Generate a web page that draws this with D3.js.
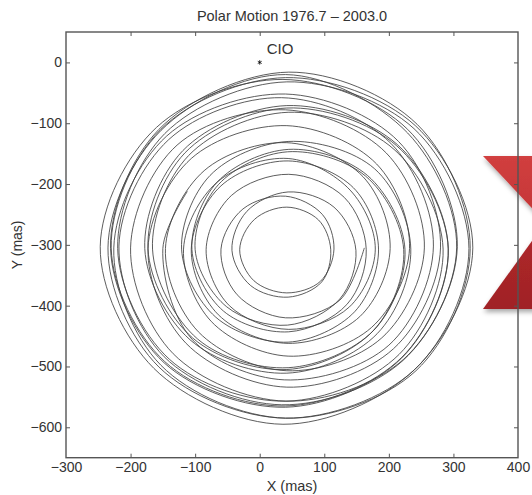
<!DOCTYPE html>
<html>
<head>
<meta charset="utf-8">
<script src="https://cdn.jsdelivr.net/npm/d3@7"></script>
<style>
  body { margin: 0; background: #fff; }
  svg { display: block; font-family: "Liberation Sans", Arial, sans-serif; }
  .tick text { fill: #333; font-size: 14px; }
  .tick line { stroke: #555; }
</style>
</head>
<body>
<div id="chart"></div>
<script>
// axis ticks
const xTicks = [-300, -200, -100, 0, 100, 200, 300, 400];
const yTicks = [0, -100, -200, -300, -400, -500, -600];

// reference point
const cioPoint = [{ label: "CIO", x: 0, y: 0 }];

// pole path, x / y in mas (1976.7 -> 2003.0)
const polePath = [
  [-112, -212], [-150, -306], [-105, -455], [38, -522], [200, -465],
  [269, -302], [203, -133], [34, -58], [-141, -127], [-218, -302], [-148, -484], [34, -563], [222, -490],
  [306, -303], [229, -110], [36, -28], [-160, -107], [-247, -303], [-164, -503], [36, -595], [239, -506],
  [330, -305], [241, -104], [40, -25], [-154, -111], [-230, -305], [-147, -492], [40, -565], [220, -485],
  [292, -306], [213, -135], [42, -71], [-119, -145], [-178, -306], [-108, -456], [42, -511], [182, -446],
  [234, -307], [178, -175], [44, -130], [-77, -186], [-121, -307], [-68, -419], [44, -460], [147, -410],
  [184, -307], [145, -206], [44, -162], [-60, -203], [-106, -307], [-64, -415], [44, -462], [155, -418],
  [202, -306], [160, -188], [42, -132], [-86, -178], [-146, -306], [-95, -443], [42, -507], [189, -453],
  [255, -305], [196, -149], [40, -78], [-128, -136], [-200, -305], [-134, -479], [40, -557], [223, -488],
  [305, -305], [229, -116], [40, -20], [-153, -112], [-235, -305], [-156, -501], [40, -585], [240, -505],
  [324, -306], [239, -109], [42, -32], [-147, -117], [-220, -306], [-140, -488], [42, -557], [216, -480],
  [284, -307], [208, -143], [44, -82], [-110, -153], [-166, -307], [-96, -455], [44, -502], [177, -440],
  [225, -308], [167, -186], [45, -143], [-66, -197], [-105, -308], [-56, -409], [45, -443], [135, -398],
  [165, -308], [131, -222], [45, -184], [-44, -219], [-83, -308], [-47, -400], [45, -439], [139, -402],
  [179, -307], [140, -210], [44, -158], [-66, -197], [-118, -307], [-75, -426], [44, -483], [173, -436],
  [232, -306], [181, -167], [42, -104], [-106, -158], [-173, -306], [-114, -462], [42, -534], [207, -471],
  [280, -305], [215, -130], [40, -52], [-144, -121], [-226, -305], [-153, -498], [40, -585], [242, -507],
  [326, -306], [244, -102], [45, -16], [-156, -110], [-231, -306], [-148, -494], [40, -567], [220, -486],
  [292, -307], [212, -137], [42, -75], [-116, -149], [-173, -307], [-104, -453], [42, -505], [176, -441],
  [223, -308], [164, -187], [43, -147], [-64, -201], [-100, -308], [-51, -402], [43, -432], [124, -389],
  [149, -309], [115, -238], [44, -213], [-20, -245], [-43, -309], [-14, -367], [44, -386], [96, -361],
  [110, -308], [91, -259], [42, -238], [-8, -258], [-31, -308], [-9, -359], [42, -379], [94, -360],
  [115, -307], [97, -250], [40, -220], [-26, -241], [-60, -307], [-35, -382], [40, -420], [124, -391],
  [162, -305]
];

const width = 532, height = 495;
const margin = { top: 32, right: 14, bottom: 37.3, left: 66 };

const svg = d3.select("#chart").append("svg")
  .attr("width", width)
  .attr("height", height);

svg.append("rect").attr("width", width).attr("height", height).attr("fill", "#fff");

const x = d3.scaleLinear().domain([-300, 400]).range([margin.left, width - margin.right]);
const y = d3.scaleLinear().domain([-650, 50]).range([height - margin.bottom, margin.top]);

// red "X" badge sitting over the right edge (decoration)
const defs = svg.append("defs");
const f = defs.append("filter").attr("id", "shadow").attr("x", "-30%").attr("y", "-30%")
  .attr("width", "160%").attr("height", "160%");
f.append("feDropShadow").attr("dx", 1).attr("dy", 3).attr("stdDeviation", 2.5)
  .attr("flood-color", "#000").attr("flood-opacity", 0.35);
const gTop = defs.append("linearGradient").attr("id", "redTop").attr("x1", 0).attr("y1", 0).attr("x2", 0).attr("y2", 1);
gTop.append("stop").attr("offset", "0%").attr("stop-color", "#d13f3f");
gTop.append("stop").attr("offset", "100%").attr("stop-color", "#c03234");
const gBot = defs.append("linearGradient").attr("id", "redBot").attr("x1", 0).attr("y1", 0).attr("x2", 0).attr("y2", 1);
gBot.append("stop").attr("offset", "0%").attr("stop-color", "#b52a2d");
gBot.append("stop").attr("offset", "100%").attr("stop-color", "#a02225");

const badge = svg.append("g").attr("filter", "url(#shadow)");
badge.append("path").attr("d", "M483,156 L560,156 L560,238 Z").attr("fill", "url(#redTop)");
badge.append("path").attr("d", "M483,309 L560,309 L560,202 Z").attr("fill", "url(#redBot)");

// pole path
const line = d3.line()
  .x(d => x(d[0]))
  .y(d => y(d[1]))
  .curve(d3.curveCatmullRom.alpha(0.5));

svg.append("path")
  .datum(polePath)
  .attr("d", line)
  .attr("fill", "none")
  .attr("stroke", "#404040")
  .attr("stroke-width", 0.85);

// CIO marker
svg.selectAll(".cio")
  .data(cioPoint)
  .enter().append("path")
  .attr("class", "cio")
  .attr("transform", d => `translate(${x(d.x)},${y(d.y)})`)
  .attr("d", d3.symbol(d3.symbolAsterisk, 14))
  .attr("stroke", "#000")
  .attr("stroke-width", 0.8)
  .attr("fill", "none");

svg.selectAll(".cio-label")
  .data(cioPoint)
  .enter().append("text")
  .attr("x", d => x(d.x) + 7)
  .attr("y", d => y(d.y) - 8.5)
  .attr("font-size", 15)
  .attr("fill", "#333")
  .text(d => d.label);

// axes, ticks pointing inward on all four sides
const plotBottom = height - margin.bottom, plotRight = width - margin.right;

const xAxisB = svg.append("g").attr("transform", `translate(0,${plotBottom})`)
  .call(d3.axisBottom(x).tickValues(xTicks).tickSizeInner(-4).tickSizeOuter(0).tickPadding(4));
const xAxisT = svg.append("g").attr("transform", `translate(0,${margin.top})`)
  .call(d3.axisTop(x).tickValues(xTicks.slice(1, -1)).tickSizeInner(-4).tickSizeOuter(0).tickFormat(""));
const yAxisL = svg.append("g").attr("transform", `translate(${margin.left},0)`)
  .call(d3.axisLeft(y).tickValues(yTicks).tickSizeInner(-4).tickSizeOuter(0).tickPadding(4));
const yAxisR = svg.append("g").attr("transform", `translate(${plotRight},0)`)
  .call(d3.axisRight(y).tickValues(yTicks).tickSizeInner(-4).tickSizeOuter(0).tickFormat(""));

[xAxisB, xAxisT, yAxisL, yAxisR].forEach(a => a.select(".domain").remove());
xAxisB.selectAll(".tick").filter(d => d === -300 || d === 400).select("line").remove();

svg.append("rect")
  .attr("x", margin.left)
  .attr("y", margin.top)
  .attr("width", plotRight - margin.left)
  .attr("height", plotBottom - margin.top)
  .attr("fill", "none")
  .attr("stroke", "#555")
  .attr("stroke-width", 1.4);

// title and axis labels
svg.append("text")
  .attr("x", (margin.left + plotRight) / 2)
  .attr("y", 21)
  .attr("text-anchor", "middle")
  .attr("font-size", 14.5)
  .attr("fill", "#333")
  .text("Polar Motion 1976.7 \u2013 2003.0");

svg.append("text")
  .attr("x", (margin.left + plotRight) / 2)
  .attr("y", 491)
  .attr("text-anchor", "middle")
  .attr("font-size", 14.5)
  .attr("fill", "#333")
  .text("X (mas)");

svg.append("text")
  .attr("transform", `translate(22,${(margin.top + plotBottom) / 2}) rotate(-90)`)
  .attr("text-anchor", "middle")
  .attr("font-size", 14)
  .attr("fill", "#333")
  .text("Y (mas)");
</script>
</body>
</html>
